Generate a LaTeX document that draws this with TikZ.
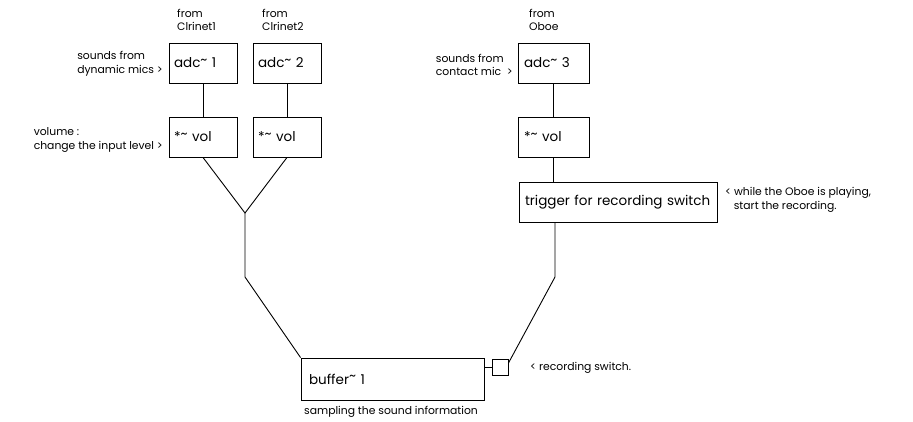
\documentclass[tikz,border=0pt]{standalone}
\usepackage{fontspec}
\setmainfont{Poppins}
\newcommand{\tld}{\raisebox{0.45ex}{\textasciitilde}}
\begin{document}
\begin{tikzpicture}[x=1pt,y=-1pt,
  box/.style={draw,line width=0.9pt,inner sep=0pt,minimum height=40pt,font=\fontsize{13.5}{15}\selectfont,align=left},
  lbl/.style={inner sep=0pt,font=\fontsize{10.8}{13.5}\selectfont,align=left},
  wire/.style={line width=0.9pt}]
\useasboundingbox (0,0) rectangle (913,422);
% boxes
\node[box,minimum width=68pt,text width=58pt] (adc1) at (203,63) {adc\tld\ 1};
\node[box,minimum width=68pt,text width=58pt] (adc2) at (287,63) {adc\tld\ 2};
\node[box,minimum width=68pt,text width=58pt] (vol1) at (203,137) {*\tld\ vol};
\node[box,minimum width=68pt,text width=58pt] (vol2) at (287,137) {*\tld\ vol};
\node[box,minimum width=71pt,text width=59pt] (adc3) at (553.5,63) {adc\tld\ 3};
\node[box,minimum width=71pt,text width=59pt] (vol3) at (553.5,137) {*\tld\ vol};
\node[box,minimum width=198pt,text width=186pt] (trig) at (618,202) {trigger for recording switch};
\node[box,minimum width=183pt,text width=167pt,minimum height=42pt] (buf) at (392.5,379) {buffer\tld\ 1};
\node[draw,line width=0.9pt,minimum width=16pt,minimum height=16pt,inner sep=0pt] (sw) at (500,367) {};
% labels
\node[lbl,anchor=north west] (f1) at (177,9) {from\\Clrinet1};
\node[lbl,anchor=north west] (f2) at (262,9) {from\\Clrinet2};
\node[lbl,anchor=north west] (f3) at (529,9) {from\\Oboe};
\node[lbl,anchor=east,align=left] (s1) at (163,64) {sounds from\\dynamic mics >};
\node[lbl,anchor=east,align=left] (v1) at (163,140) {volume :\\change the input level >};
\node[lbl,anchor=east,align=left] (s3) at (513,65) {sounds from\\contact mic\ \ >};
\node[lbl,anchor=west,align=left] (w1) at (725,200) {< while the Oboe is playing,\\\ \ \ start the recording.};
\node[lbl,anchor=west] (r1) at (530,368) {< recording switch.};
\node[lbl,anchor=north west] (sp) at (304,406) {sampling the sound information};
% connectors
\coordinate (j) at (245,213);
\coordinate (jb) at (245,277);
\coordinate (rb) at (555,277);
\draw[wire] (adc1) -- (vol1);
\draw[wire] (adc2) -- (vol2);
\draw[wire] (adc3) -- (vol3);
\draw[wire] (vol3) -- (vol3.south |- trig.north);
\draw[wire] (vol1.south) -- (j) -- (vol2.south);
\draw[wire] (j) -- (jb) -- (buf.north west);
\draw[wire] (rb |- trig.south) -- (rb) -- (sw.25);
\draw[wire] (sw.west) -- (sw.west -| buf.east);
\end{tikzpicture}
\end{document}
